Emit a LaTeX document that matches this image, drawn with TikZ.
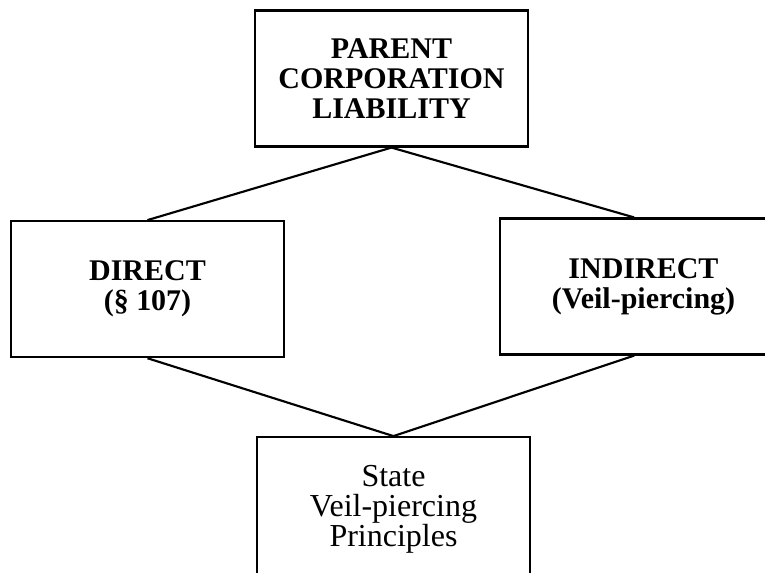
\documentclass[tikz,border=0pt]{standalone}
\usepackage{fontspec}
\setmainfont{Liberation Serif}
\usetikzlibrary{positioning}

\begin{document}
\begin{tikzpicture}[x=0.75pt,y=-0.75pt,on grid,
  box/.style={draw,line width=1.6pt,minimum width=205pt,minimum height=102pt,
    align=center,font=\fontsize{24}{22.5}\selectfont},
  heading/.style={box,font=\fontsize{22.5}{22.5}\selectfont\bfseries}]
\path[use as bounding box] (0,0) rectangle (765,572);
\clip (0,0) rectangle (765,572);

\node[heading] (parent) at (391.5,78.5) {PARENT\\CORPORATION\\LIABILITY};
\node[heading] (direct) [below left=158pt and 183pt of parent] {DIRECT\\(\S\ 107)};
\node[heading,minimum width=215pt] (indirect) [below right=156pt and 189pt of parent] {INDIRECT\\(Veil-piercing)};
\node[box,minimum height=108pt] (state) [below=323pt of parent,xshift=1.5pt] {State\\Veil-piercing\\Principles};

\path[line width=1.6pt]
(parent.south) edge (direct.north)
               edge ([xshift=-7pt]indirect.north)
(state.north)  edge (direct.south)
               edge ([xshift=-7pt]indirect.south);
\end{tikzpicture}
\end{document}
